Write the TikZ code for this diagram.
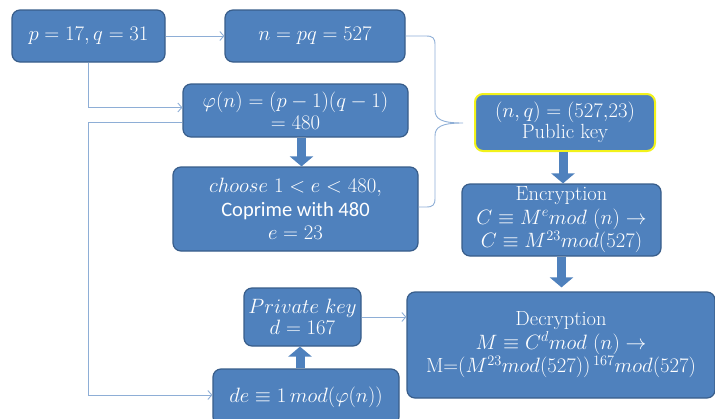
\documentclass[tikz,border=0pt]{standalone}
\usepackage{fontspec}
\newfontfamily\calib{Carlito}
\usetikzlibrary{arrows.meta,calc}
\definecolor{boxfill}{HTML}{4F81BD}
\definecolor{boxline}{HTML}{385D8A}
\definecolor{linkc}{HTML}{8EAED6}
\definecolor{keyyellow}{HTML}{F2F21A}
\begin{document}
\begin{tikzpicture}[x=1pt,y=-1pt,
  box/.style={draw=boxline,line width=1.2pt,fill=boxfill,rounded corners=8pt,
    text=white,align=center,inner sep=0pt,font=\fontsize{20.5}{21.5}\selectfont},
  wide/.style={font=\fontsize{20.5}{23.5}\selectfont},
  link/.style={draw=linkc,line width=0.9pt},
  linkarrow/.style={link,-{Straight Barb[length=4pt,width=9pt,line width=0.9pt]}},
  fat/.style={draw=boxfill,line width=9pt,-{Triangle[length=10pt,width=23pt]}}]
\useasboundingbox (0,0) rectangle (715,418);
\clip (0,0) rectangle (715,418);
\node[box,minimum width=153pt,minimum height=52pt] (p) at (88.5,36) {$p=17,q=31$};
\node[box,minimum width=180pt,minimum height=52pt] (n) at (315,36) {$n=pq=527$};
\node[box,minimum width=225pt,minimum height=53pt] (phi) at (295.5,110.5) {$\varphi(n)=(p-1)(q-1)$\\$=480$};
\node[box,wide,minimum width=245pt,minimum height=84pt] (choose) at (295.5,209) {$choose\ 1<e<480,$\\{\calib Coprime with 480}\\$e=23$};
\node[box,draw=keyyellow,line width=2pt,minimum width=180pt,minimum height=57pt] (pub) at (565,122.5) {$(n,q)=(527{,}23)$\\Public key};
\node[box,wide,minimum width=199pt,minimum height=72pt] (enc) at (561.5,220) {Encryption\\$C\equiv M^{e}mod\ (n)\rightarrow$\\$C\equiv M^{23}mod(527)$};
\node[box,wide,minimum width=308pt,minimum height=106pt] (dec) at (561,345) {Decryption\\$M\equiv C^{d}mod\ (n)\rightarrow$\\M=$(M^{23}mod(527))^{\,167}mod(527)$};
\node[box,minimum width=117pt,minimum height=58pt] (priv) at (302.5,317) {$Private\ key$\\$d=167$};
\node[box,minimum width=186pt,minimum height=56pt] (de) at (306,397) {$de\equiv 1\,mod(\varphi(n))$};
\coordinate (tip) at (463,123);
% thin connectors
\draw[linkarrow] (p.east) -- (n.west);
\draw[linkarrow] (p.south) |- ([yshift=3pt]phi.west);
\draw[linkarrow] ([yshift=-11.5pt]phi.west) -- ++(-94,0) |- ([yshift=2pt]de.west);
\draw[linkarrow] (priv.east) -- (priv.east -| dec.west);
\draw[link] (n.east) -- (426,36) .. controls (433,36) and (435,38) .. (435,45) -- (435,110)
  .. controls (435,119) and (441,123) .. (tip)
  .. controls (441,123) and (435,127) .. (435,136) -- (435,198)
  .. controls (435,205) and (433,207) .. (426,207) -- (choose.east |- 0,207);
% block arrows
\draw[fat] ([xshift=6pt]phi.south) -- ([xshift=6pt]phi.south |- choose.north);
\draw[fat] ([xshift=-2pt]pub.south) -- ([xshift=-2pt]pub.south |- enc.north);
\draw[fat] (enc.south) -- ([yshift=4pt]enc.south |- dec.north);
\draw[fat] ([xshift=-6pt]de.north) -- ([xshift=-6pt]de.north |- priv.south);
\end{tikzpicture}
\end{document}
